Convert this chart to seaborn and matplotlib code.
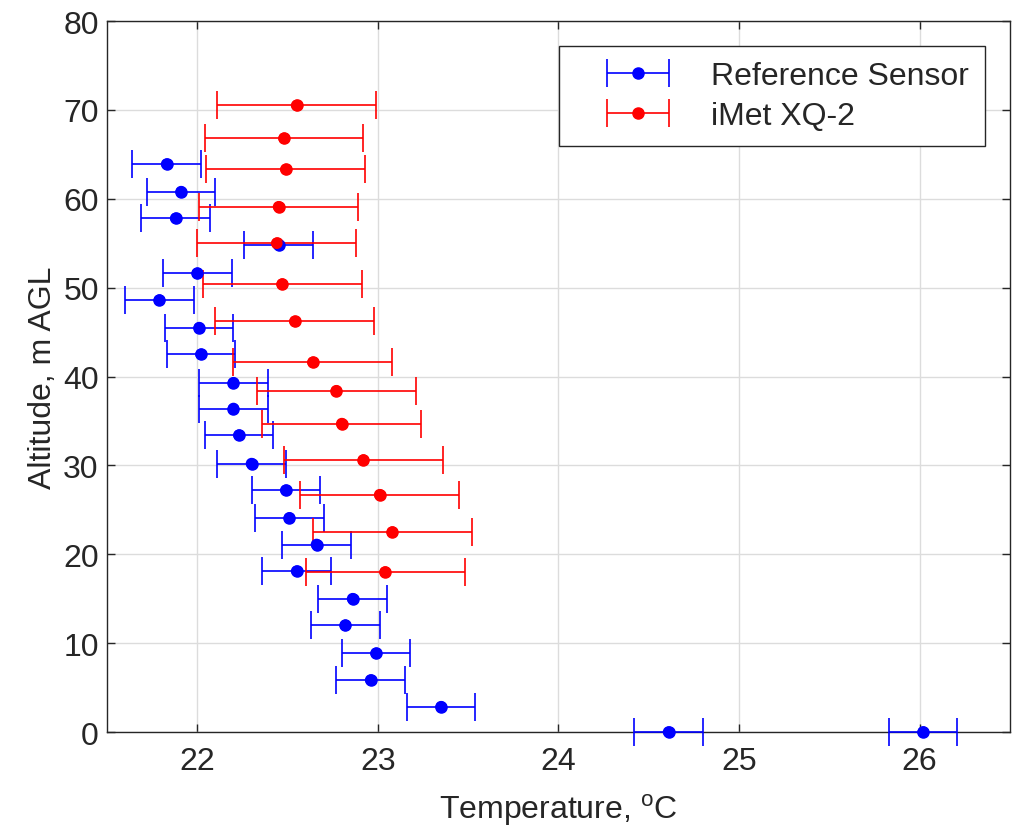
import pandas as pd
import seaborn as sns
import matplotlib.pyplot as plt
from matplotlib.legend_handler import HandlerErrorbar

# 讀值
ref_alt = [63.9, 60.8, 57.8, 54.8, 51.6, 48.6, 45.5, 42.5, 39.3, 36.4, 33.4, 30.2,
           27.2, 24.1, 21.1, 18.1, 15.0, 12.0, 8.85, 5.85, 2.85, 0.0, 0.0]
ref_temp = [21.83, 21.91, 21.88, 22.45, 22.00, 21.79, 22.01, 22.02, 22.20, 22.20, 22.23, 22.30,
            22.49, 22.51, 22.66, 22.55, 22.86, 22.82, 22.99, 22.96, 23.35, 24.61, 26.02]
ref_err = 0.19

imet_alt = [70.5, 66.8, 63.3, 59.1, 55.0, 50.4, 46.2, 41.6, 38.4, 34.7, 30.6, 26.7, 22.5, 18.0]
imet_temp = [22.55, 22.48, 22.49, 22.45, 22.44, 22.47, 22.54, 22.64, 22.77, 22.80, 22.92,
             23.01, 23.08, 23.04]
imet_err = 0.44

labels = ['Reference Sensor', 'iMet XQ-2']
colors = ['#0000ff', '#ff0000']

df = pd.concat([
    pd.DataFrame({'temp': ref_temp, 'alt': ref_alt, 'sensor': labels[0]}),
    pd.DataFrame({'temp': imet_temp, 'alt': imet_alt, 'sensor': labels[1]}),
])

sns.set_style('whitegrid')
plt.rcParams['font.family'] = ['Liberation Sans', 'DejaVu Sans']
plt.rcParams['mathtext.fontset'] = 'custom'
plt.rcParams['mathtext.rm'] = 'Liberation Sans'
fs = 23

fig = plt.figure(figsize=(10.2, 8.28), dpi=100)
ax = fig.add_axes([0.105, 0.1147, 0.885, 0.8587])

# 誤差線
for t, a, e, c, lab in [(ref_temp, ref_alt, ref_err, colors[0], labels[0]),
                        (imet_temp, imet_alt, imet_err, colors[1], labels[1])]:
    eb = ax.errorbar(t, a, xerr=e, fmt='o', color=c, ms=8, lw=1.2, capsize=10,
                     capthick=1.2, label=lab, zorder=3)
    for art in eb.get_children():
        art.set_clip_on(False)

sc = sns.scatterplot(data=df, x='temp', y='alt', hue='sensor', palette=colors, s=70,
                     edgecolor='none', legend=False, ax=ax, zorder=4)
for coll in sc.collections:
    coll.set_clip_on(False)

ax.set_xlim(21.5, 26.5)
ax.set_ylim(0, 80)
ax.set_xticks([22, 23, 24, 25, 26])
ax.set_yticks(range(0, 81, 10))
ax.set_xlabel('Temperature, $^{\\mathrm{o}}$C', color='#262626', fontsize=fs, labelpad=11)
ax.set_ylabel('Altitude, m AGL', color='#262626', fontsize=fs)

ax.grid(True, color='#dcdcdc', lw=1)
for s in ax.spines.values():
    s.set_color('#262626')
    s.set_linewidth(1)
ax.tick_params(direction='in', length=6, width=1, colors='#262626', labelsize=fs,
               bottom=True, left=True, top=True, right=True,
               labeltop=False, labelright=False, pad=6)
ax.tick_params(axis='x', pad=10)

leg = ax.legend(loc='upper right', bbox_to_anchor=(0.972, 0.965), borderaxespad=0,
                fancybox=False, framealpha=1, edgecolor='#262626', fontsize=fs,
                handlelength=4.0, borderpad=0.48, labelspacing=0.3, handletextpad=0.3,
                handler_map={type(eb): HandlerErrorbar(xerr_size=0.97)})
leg.get_frame().set_linewidth(1)

fig.savefig('out.png', dpi=100)
